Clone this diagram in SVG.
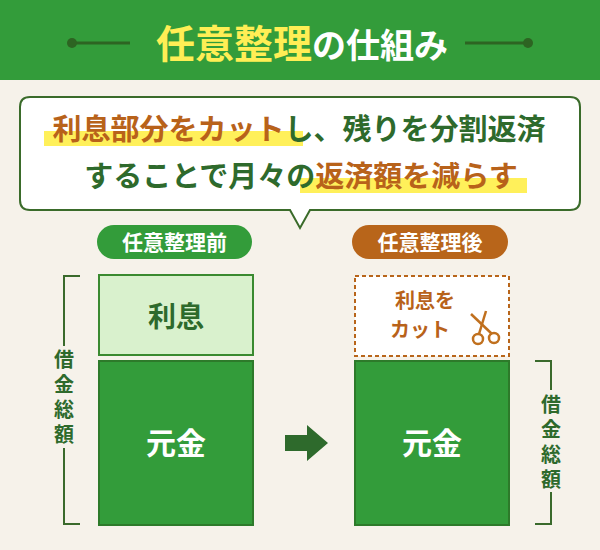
<svg xmlns="http://www.w3.org/2000/svg" width="600" height="550" viewBox="0 0 600 550">
<style>
text{font-family:"Noto Sans CJK JP","Noto Sans",sans-serif;font-weight:bold}
.g{fill:#2e6a2c}.o{fill:#b8621a}.w{fill:#fff}
.hl{fill:#fff05a}
.br{fill:none;stroke:#3a6a2c;stroke-width:2}
.v{font-size:20px;text-anchor:middle;fill:#2e6a2c}
</style>
<rect width="600" height="550" fill="#f6f2ea"/>
<g id="header">
<rect width="600" height="80" fill="#339c3a"/>
<line x1="72" y1="43" x2="130" y2="43" stroke="#2d6422" stroke-width="3"/>
<circle cx="72" cy="43" r="5" fill="#2d6422"/>
<line x1="465" y1="43" x2="528" y2="43" stroke="#2d6422" stroke-width="3"/>
<circle cx="528" cy="43" r="5" fill="#2d6422"/>
<text x="302" y="58" text-anchor="middle" font-size="39"><tspan fill="#ffee55">任意整理</tspan><tspan fill="#fff" font-size="34">の仕組み</tspan></text>
</g>
<g id="bubble">
<path d="M30 97 H570 Q580 97 580 107 V200 Q580 210 570 210 H310 L300 228 L290 210 H30 Q20 210 20 200 V107 Q20 97 30 97 Z" fill="#fff" stroke="#3a6b2a" stroke-width="2"/>
<rect class="hl" x="44" y="131" width="259" height="15"/>
<rect class="hl" x="300" y="178" width="227" height="15"/>
<text x="299" y="140" text-anchor="middle" font-size="29"><tspan class="o">利息部分をカット</tspan><tspan class="g">し、残りを分割返済</tspan></text>
<text x="301" y="187" text-anchor="middle" font-size="29"><tspan class="g">することで月々の</tspan><tspan class="o">返済額を減らす</tspan></text>
</g>
<g id="before">
<rect x="97" y="225" width="155" height="34" rx="17" fill="#339c3a"/>
<text x="174.5" y="250" text-anchor="middle" font-size="21" class="w">任意整理前</text>
<rect x="99" y="275" width="154" height="80" fill="#d9f1cd" stroke="#3a8a30" stroke-width="2"/>
<text x="176" y="327" text-anchor="middle" font-size="28" fill="#2e6a2c">利息</text>
<rect x="99" y="361" width="154" height="164" fill="#339c3a" stroke="#2d7a2a" stroke-width="2"/>
<text x="176" y="454" text-anchor="middle" font-size="30" class="w">元金</text>
</g>
<g id="after">
<rect x="352" y="225" width="156" height="34" rx="17" fill="#b8651a"/>
<text x="430" y="250" text-anchor="middle" font-size="21" class="w">任意整理後</text>
<rect x="355" y="276" width="154" height="80" fill="#fff" stroke="#b8651a" stroke-width="2" stroke-dasharray="4 3"/>
<text x="425" y="308" text-anchor="middle" font-size="20" class="o">利息を</text>
<text x="420" y="337" text-anchor="middle" font-size="20" class="o">カット</text>
<g fill="none" stroke="#c0701e" stroke-width="2.5">
<line x1="471" y1="314" x2="492" y2="334"/><line x1="486" y1="311" x2="479" y2="334"/>
<circle cx="478" cy="339" r="5"/><circle cx="494" cy="338" r="5"/>
</g>
<rect x="355" y="361" width="154" height="164" fill="#339c3a" stroke="#2d7a2a" stroke-width="2"/>
<text x="432" y="454" text-anchor="middle" font-size="30" class="w">元金</text>
</g>
<g id="connectors">
<path d="M285 435 H307 V425 L328 443 L307 461 V451 H285 Z" fill="#2e6a2c"/>
<path class="br" d="M80 276 H64 V524 H80"/>
<path class="br" d="M535 361 H551 V524 H535"/>
</g>
<g id="labels">
<rect x="52" y="346" width="24" height="102" fill="#f6f2ea"/>
<text class="v" x="64" y="367">借</text>
<text class="v" x="64" y="392">金</text>
<text class="v" x="64" y="417">総</text>
<text class="v" x="64" y="442">額</text>
<rect x="539" y="390" width="24" height="102" fill="#f6f2ea"/>
<text class="v" x="551" y="412">借</text>
<text class="v" x="551" y="437">金</text>
<text class="v" x="551" y="462">総</text>
<text class="v" x="551" y="487">額</text>
</g>
</svg>
